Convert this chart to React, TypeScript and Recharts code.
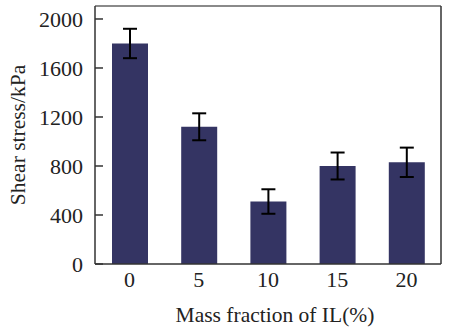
import React from 'react'
import { BarChart, Bar, XAxis, YAxis, ErrorBar, Label } from 'recharts'

// mass fraction of IL (%) and measured shear stress (kPa)
const fractions = ['0', '5', '10', '15', '20']
const shearStress = [1800, 1120, 510, 800, 830]
const stressError = [120, 110, 100, 110, 120]
const yTicks = [0, 400, 800, 1200, 1600, 2000]

const data = fractions.map((f, i) => ({
  fraction: f,
  stress: shearStress[i],
  err: stressError[i],
}))

const FONT = '"Liberation Serif", "Times New Roman", serif'
const AXIS = '#333333'

// y tick: label + inward tick mark
const YTick = (props: any) => {
  const { x, y, payload } = props
  return (
    <g>
      <line x1={x + 12} x2={x + 20} y1={y} y2={y} stroke={AXIS} strokeWidth={1.5} />
      <text
        x={x}
        y={y}
        dy="0.355em"
        textAnchor="end"
        fontFamily={FONT}
        fontSize={22}
        fill="#222"
      >
        {payload.value}
      </text>
    </g>
  )
}

export default function App() {
  return (
    <>
      <style>{'body { margin: 0; }'}</style>
      <BarChart
        width={449}
        height={336}
        data={data}
        margin={{ top: 5, right: 7, bottom: 0, left: 0 }}
      >
        <XAxis
          dataKey="fraction"
          height={72}
          tickLine={false}
          tickSize={0}
          tickMargin={7}
          axisLine={{ stroke: AXIS, strokeWidth: 1.5 }}
          tick={{ fontFamily: FONT, fontSize: 22, fill: '#222' }}
        >
          <Label
            value="Mass fraction of IL(%)"
            position="insideBottom"
            offset={14}
            dx={7}
            style={{ fontFamily: FONT, fontSize: 21.5, fill: '#222' }}
          />
        </XAxis>
        <XAxis
          xAxisId="top"
          dataKey="fraction"
          orientation="top"
          height={1}
          tick={false}
          tickLine={false}
          axisLine={{ stroke: '#8a8a8a', strokeWidth: 2 }}
        />
        <YAxis
          width={95}
          domain={[0, 2106]}
          ticks={yTicks}
          interval={0}
          tickLine={false}
          tickSize={0}
          tickMargin={12}
          axisLine={{ stroke: AXIS, strokeWidth: 1.5 }}
          tick={<YTick />}
        >
          <Label
            value="Shear stress/kPa"
            position="insideLeft"
            angle={-90}
            offset={17}
            style={{ fontFamily: FONT, fontSize: 21.5, fill: '#222', textAnchor: 'middle' }}
          />
        </YAxis>
        <YAxis
          yAxisId="right"
          orientation="right"
          width={1}
          tick={false}
          tickLine={false}
          axisLine={{ stroke: AXIS, strokeWidth: 1.5 }}
        />
        <Bar dataKey="stress" fill="#343463" barSize={36} isAnimationActive={false}>
          <ErrorBar dataKey="err" width={7} strokeWidth={2} stroke="#000" />
        </Bar>
      </BarChart>
    </>
  )
}
